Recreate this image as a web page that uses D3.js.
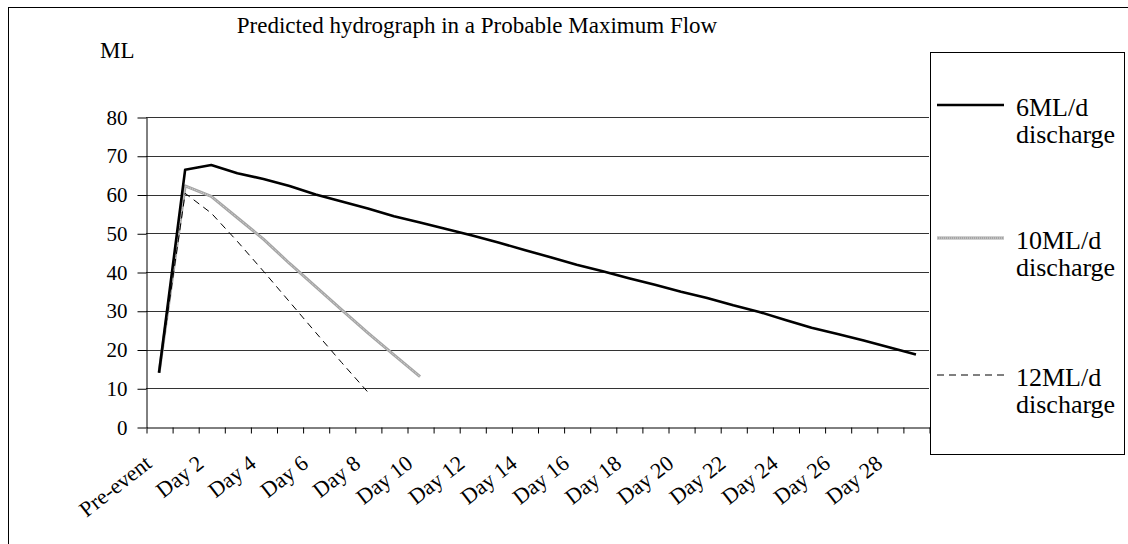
<!DOCTYPE html>
<html>
<head>
<meta charset="utf-8">
<script src="https://cdn.jsdelivr.net/npm/d3@7"></script>
<style>
  body { margin: 0; background: #fff; }
  svg text { font-family: "Liberation Serif", "Times New Roman", Times, "DejaVu Serif", serif; fill: #000; }
</style>
</head>
<body>
<svg id="chart" width="1128" height="544"></svg>
<script>
const days = ["Pre-event", "Day 1", "Day 2", "Day 3", "Day 4", "Day 5", "Day 6", "Day 7", "Day 8", "Day 9",
    "Day 10", "Day 11", "Day 12", "Day 13", "Day 14", "Day 15", "Day 16", "Day 17", "Day 18", "Day 19",
    "Day 20", "Day 21", "Day 22", "Day 23", "Day 24", "Day 25", "Day 26", "Day 27", "Day 28", "Day 29"]

const flow6 = [14, 66.4, 67.6, 65.5, 64.0, 62.2, 60.0, 58.2, 56.4, 54.4, 52.8, 51.1, 49.4, 47.6, 45.7,
    43.8, 41.9, 40.2, 38.4, 36.7, 34.9, 33.3, 31.4, 29.7, 27.6, 25.6, 24.0, 22.3, 20.5, 18.7]
const flow10 = [14, 62.2, 59.5, 54.0, 48.5, 42.2, 36.2, 30.2, 24.3, 18.6, 13]
const flow12 = [14, 60.3, 55.2, 47.9, 40.2, 32.3, 24.4, 16.6, 9]

const seriesNames = ["6ML/d discharge", "10ML/d discharge", "12ML/d discharge"]
const yTicks = [0, 10, 20, 30, 40, 50, 60, 70, 80]

const title = "Predicted hydrograph in a Probable Maximum Flow"
const yUnit = "ML"

let svg = d3.select("#chart")

// outer chart border
svg.append("rect")
    .attr("x", 8.5).attr("y", 7.5)
    .attr("width", 1130).attr("height", 560)
    .style("fill", "none").style("stroke", "#000").style("stroke-width", 1)

let x = d3.scaleBand().domain(days).range([146, 929]),
    y = d3.scaleLinear().domain([0, 80]).range([427, 117]),
    xTick = d3.scaleLinear().domain([0, days.length]).range([146, 929])

let line = d3.line()
    .x((d, i) => x(days[i]) + x.bandwidth() / 2)
    .y(d => y(d))

// grid
svg.append("g")
    .selectAll("line")
    .data(yTicks.filter(d => d > 0))
    .enter().append("line")
    .attr("x1", 146).attr("x2", 929)
    .attr("y1", d => Math.round(y(d)) + 0.5).attr("y2", d => Math.round(y(d)) + 0.5)
    .style("stroke", "#333").style("stroke-width", 1)

// y axis
let gy = svg.append("g")
    .attr("transform", "translate(146.5,0.5)")
    .call(d3.axisLeft(y).tickValues(yTicks).tickSize(9).tickSizeOuter(0).tickPadding(10))
gy.selectAll("text").style("font-size", "21px").attr("font-family", null)
gy.selectAll("line, path").style("stroke", "#000")

// x axis (ticks on category boundaries)
let gx = svg.append("g")
    .attr("transform", "translate(0.5," + (Math.round(y(0)) + 0.5) + ")")
    .call(d3.axisBottom(xTick).tickValues(d3.range(days.length + 1)).tickFormat("").tickSize(6).tickSizeOuter(0))
gx.selectAll("line, path").style("stroke", "#000")

svg.append("g")
    .selectAll("text")
    .data(days.filter((d, i) => i % 2 === 0))
    .enter().append("text")
    .attr("transform", d => "translate(" + (x(d) + x.bandwidth() / 2 - 6) + ",466) rotate(-38)")
    .attr("text-anchor", "end")
    .style("font-size", "22px")
    .text(d => d)

// series
svg.append("path")
    .attr("d", line(flow10))
    .style("fill", "none").style("stroke", "#a4a4a4").style("stroke-width", 3)
    .style("stroke-linejoin", "round")
svg.append("path")
    .attr("d", line(flow10))
    .style("fill", "none").style("stroke", "#dcdcdc").style("stroke-width", 1)
    .style("stroke-dasharray", "1,1")

svg.append("path")
    .attr("d", line(flow12))
    .style("fill", "none").style("stroke", "#000").style("stroke-width", 1)
    .style("stroke-dasharray", "7,5")

svg.append("path")
    .attr("d", line(flow6))
    .style("fill", "none").style("stroke", "#000").style("stroke-width", 2.6)
    .style("stroke-linejoin", "round")

// title and unit
svg.append("text")
    .attr("x", 477).attr("y", 33)
    .attr("text-anchor", "middle")
    .style("font-size", "23px")
    .text(title)

svg.append("text")
    .attr("x", 100).attr("y", 58)
    .style("font-size", "23px")
    .text(yUnit)

// legend
let legend = svg.append("g")
legend.append("rect")
    .attr("x", 930.5).attr("y", 52.5)
    .attr("width", 194).attr("height", 402)
    .style("fill", "#fff").style("stroke", "#000").style("stroke-width", 1)

let legendY = [105, 238, 375]
let styles = [
    {stroke: "#000", width: 2.6, dash: null},
    {stroke: "#a4a4a4", width: 3, dash: null},
    {stroke: "#000", width: 1, dash: "7,5"}
]

seriesNames.forEach((name, i) => {
    let ly = legendY[i]
    legend.append("line")
        .attr("x1", 937).attr("x2", 1004).attr("y1", ly).attr("y2", ly)
        .style("stroke", styles[i].stroke).style("stroke-width", styles[i].width)
        .style("stroke-dasharray", styles[i].dash)
    if (i === 1) {
        legend.append("line")
            .attr("x1", 937).attr("x2", 1004).attr("y1", ly).attr("y2", ly)
            .style("stroke", "#dcdcdc").style("stroke-width", 1).style("stroke-dasharray", "1,1")
    }
    let parts = name.split(" ")
    legend.append("text")
        .attr("x", 1016).attr("y", ly + 11)
        .style("font-size", "26px")
        .text(parts[0])
    legend.append("text")
        .attr("x", 1016).attr("y", ly + 38)
        .style("font-size", "26px")
        .text(parts[1])
})
</script>
</body>
</html>
